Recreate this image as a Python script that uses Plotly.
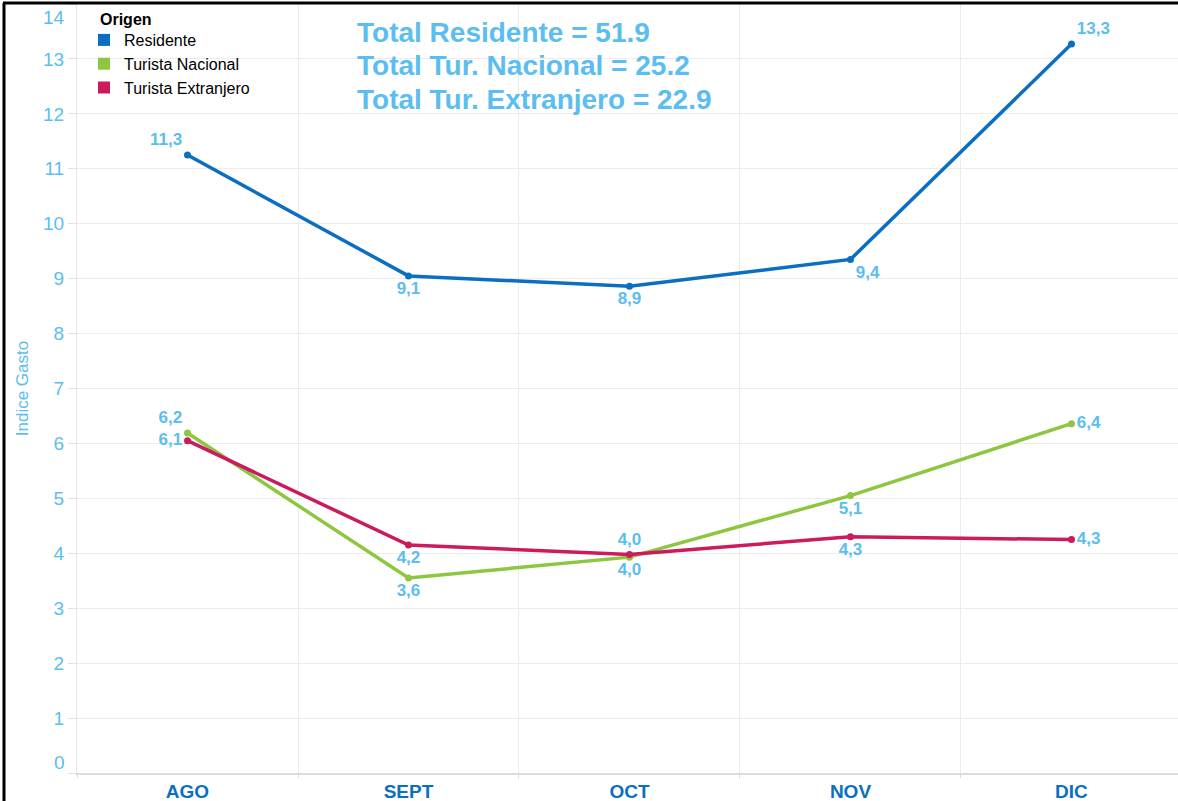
import plotly.graph_objects as go

months = ["AGO", "SEPT", "OCT", "NOV", "DIC"]
residente = [11.25, 9.05, 8.86, 9.35, 13.27]
nacional = [6.19, 3.55, 3.93, 5.05, 6.36]
extranjero = [6.05, 4.15, 3.98, 4.30, 4.25]
residente_lbl = ["11,3", "9,1", "8,9", "9,4", "13,3"]
nacional_lbl = ["6,2", "3,6", "4,0", "5,1", "6,4"]
extranjero_lbl = ["6,1", "4,2", "4,0", "4,3", "4,3"]
totals = ["Total Residente = 51.9", "Total Tur. Nacional = 25.2", "Total Tur. Extranjero = 22.9"]
y_ticks = list(range(0, 15))

C_RES = "#0b6fc1"
C_NAC = "#8dc63f"
C_EXT = "#cc1a5c"
C_LBL = "#5bbdf0"
FONT = "Liberation Sans, Arial, sans-serif"

fig = go.Figure()

series = [
    ("Residente", residente, residente_lbl, C_RES,
     ["top left", "bottom center", "bottom center", "bottom right", "top right"]),
    ("Turista Nacional", nacional, nacional_lbl, C_NAC,
     ["top left", "bottom center", "bottom center", "bottom center", "middle right"]),
    ("Turista Extranjero", extranjero, extranjero_lbl, C_EXT,
     ["middle left", "bottom center", "top center", "bottom center", "middle right"]),
]

for name, vals, lbls, col, pos in series:
    fig.add_trace(go.Scatter(
        x=months, y=vals, mode="lines+markers+text", name=name,
        text=lbls, textposition=pos,
        textfont=dict(color=C_LBL, size=17, family=FONT, weight="bold"),
        line=dict(color=col, width=3.5), marker=dict(color=col, size=7),
        showlegend=False, cliponaxis=False,
    ))
for name, vals, lbls, col, pos in series:
    fig.add_trace(go.Scatter(
        x=[None], y=[None], mode="markers", name=name,
        marker=dict(color=col, size=15, symbol="square"),
        showlegend=True,
    ))

for i, t in enumerate(totals):
    fig.add_annotation(
        xref="paper", yref="paper", x=(355 - 77) / 1101, y=(773 - (32 + 34 * i)) / 769,
        xanchor="left", yanchor="middle", text=t, showarrow=False,
        font=dict(color=C_LBL, size=28, family=FONT, weight="bold"),
    )

fig.add_annotation(
    xref="paper", yref="paper", x=(98 - 77) / 1101, y=(773 - 19) / 769,
    xanchor="left", yanchor="middle", text="<b>Origen</b>", showarrow=False,
    font=dict(color="black", size=16, family=FONT),
)

# end tick labels (drawn nudged inside the frame, as in the reference)
fig.add_annotation(xref="paper", yref="paper", x=-10 / 1101, y=(773 - 17) / 769,
                   xanchor="right", yanchor="middle", text=str(y_ticks[-1]), showarrow=False,
                   font=dict(size=19, color=C_LBL, family=FONT))
fig.add_annotation(xref="paper", yref="paper", x=-10 / 1101, y=(773 - 762) / 769,
                   xanchor="right", yanchor="middle", text=str(y_ticks[0]), showarrow=False,
                   font=dict(size=19, color=C_LBL, family=FONT))

# frame
fig.add_shape(type="line", xref="paper", yref="paper",
              x0=(4 - 77) / 1101, x1=(4 - 77) / 1101, y0=(773 - 801) / 769, y1=(773 - 3) / 769,
              line=dict(color="black", width=3))
fig.add_shape(type="line", xref="paper", yref="paper",
              x0=(3 - 77) / 1101, x1=(1178 - 77) / 1101, y0=(773 - 3) / 769, y1=(773 - 3) / 769,
              line=dict(color="black", width=3))

fig.update_layout(
    width=1178, height=801,
    margin=dict(l=77, r=0, t=4, b=28),
    paper_bgcolor="white", plot_bgcolor="white",
    font=dict(family=FONT),
    legend=dict(
        x=(84 - 77) / 1101, y=1 - (23 - 4) / 769, xanchor="left", yanchor="top",
        font=dict(size=16, color="black", family=FONT),
        bgcolor="rgba(255,255,255,0)", tracegroupgap=0, itemsizing="constant",
        itemwidth=30,
    ),
    xaxis=dict(
        range=[-0.5, 4.482], tickson="boundaries", ticks="outside", ticklen=3,
        tickcolor="#d8d8d8", showgrid=True, gridcolor="#ececec",
        showline=True, linecolor="#dcdcdc", linewidth=2,
        tickfont=dict(size=19, color=C_RES, family=FONT, weight="bold"),
        fixedrange=True,
    ),
    yaxis=dict(
        range=[0, 14], tickvals=y_ticks,
        ticktext=[""] + [str(v) for v in y_ticks[1:-1]] + [""],
        ticks="outside", ticklen=8,
        tickcolor="#e0e0e0", showgrid=True, gridcolor="#ececec", zeroline=False,
        showline=True, linecolor="#e6e6e6", linewidth=1,
        tickfont=dict(size=19, color=C_LBL, family=FONT),
        title=dict(text="Indice Gasto", font=dict(size=17, color=C_LBL, family=FONT), standoff=10),
    ),
)

fig.write_html("out.html", config={"displayModeBar": False},
               post_script="document.body.style.margin='0';")
